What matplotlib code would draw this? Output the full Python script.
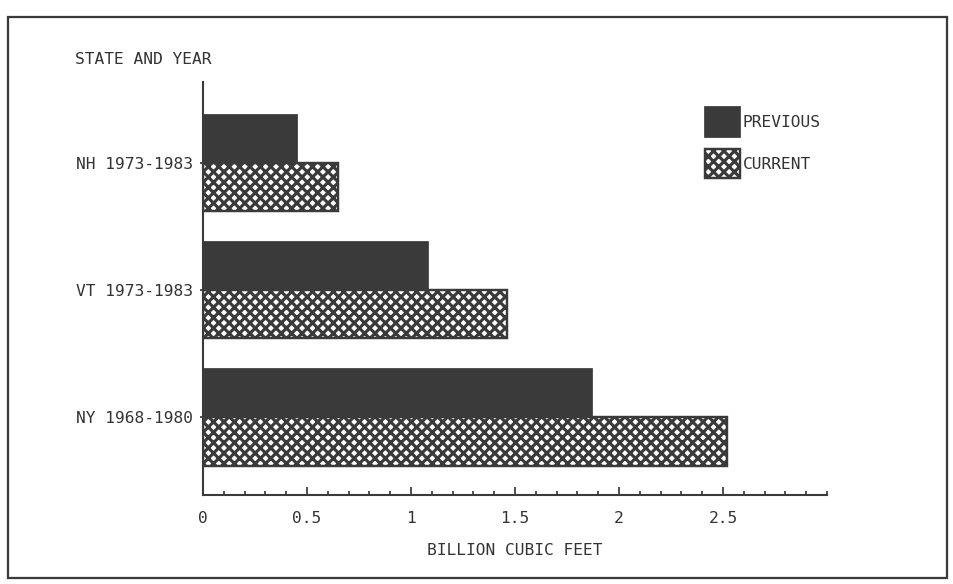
import matplotlib
matplotlib.use("Agg")
import matplotlib.pyplot as plt
from matplotlib.patches import Rectangle
from matplotlib.ticker import MultipleLocator
import numpy as np

categories = ["NY 1968-1980", "VT 1973-1983", "NH 1973-1983"]
previous = [1.87, 1.08, 0.45]
current = [2.52, 1.46, 0.65]
series_names = ["PREVIOUS", "CURRENT"]
x_ticks = [0, 0.5, 1, 1.5, 2, 2.5]
x_tick_labels = ["0", "0.5", "1", "1.5", "2", "2.5"]

DARK = "#3a3a3a"
plt.rcParams["font.family"] = ["DejaVu Sans Mono"]
plt.rcParams["hatch.linewidth"] = 1.8
plt.rcParams["hatch.color"] = DARK

W, H = 953, 584
fig = plt.figure(figsize=(W / 125, H / 125), dpi=125)
ax = fig.add_axes([203 / W, (H - 495) / H, (827 - 203) / W, (495 - 82) / H])

y = np.arange(len(categories))
h = 0.378
b1 = ax.barh(y + h / 2, previous, height=h, color=DARK, edgecolor=DARK,
             linewidth=1, label=series_names[0])
b2 = ax.barh(y - h / 2, current, height=h, color="white", edgecolor=DARK,
             linewidth=1.4, hatch="xxxx", label=series_names[1])

ax.set_xlim(0, 3.0)
ax.set_ylim(-0.61, 2.64)
ax.set_yticks(y)
ax.set_yticklabels(categories, fontsize=9.4, color="#333333")
ax.set_xticks(x_ticks)
ax.set_xticklabels(x_tick_labels, fontsize=9.4, color="#333333")
ax.xaxis.set_minor_locator(MultipleLocator(0.1))
ax.tick_params(axis="x", which="major", direction="in", length=4.5, width=1, pad=9, color=DARK)
ax.tick_params(axis="x", which="minor", direction="in", length=2.2, width=1, color=DARK)
ax.tick_params(axis="y", which="major", direction="out", length=1.5, width=1, pad=4.5, color=DARK)
for s in ["top", "right"]:
    ax.spines[s].set_visible(False)
for s in ["left", "bottom"]:
    ax.spines[s].set_linewidth(1.2)
    ax.spines[s].set_color(DARK)
ax.set_xlabel("BILLION CUBIC FEET", fontsize=9.4, color="#333333", labelpad=10)

fig.text(75 / W, 1 - 60 / H, "STATE AND YEAR", fontsize=9.4, color="#333333",
         ha="left", va="center")

leg = ax.legend(handles=[b1, b2], labels=series_names, loc="upper left",
                bbox_to_anchor=(697 / W, 1 - 99 / H), bbox_transform=fig.transFigure,
                frameon=False, fontsize=9.4, handlelength=2.15, handleheight=2.4,
                labelspacing=0.75, handletextpad=0.15, borderpad=0)
for t in leg.get_texts():
    t.set_color("#333333")

fig.patches.append(Rectangle((8 / W, 1 - 578 / H), (947 - 8) / W, (578 - 17) / H,
                             transform=fig.transFigure, fill=False,
                             edgecolor=DARK, linewidth=1.3))

fig.savefig("out.png", dpi=125, facecolor="white")
